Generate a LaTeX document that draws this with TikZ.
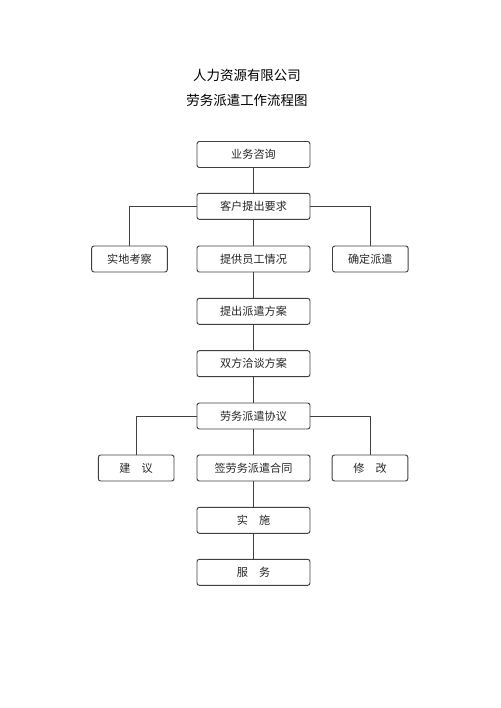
\documentclass[tikz,border=0pt]{standalone}
\usepackage{fontspec}
\setmainfont{Noto Sans CJK SC}
\tikzset{
  step box/.style={draw=black!75, line width=0.8pt, rounded corners=2pt,
    minimum width=3.39cm, minimum height=0.78cm, inner sep=0pt,
    font=\fontsize{9.5pt}{11pt}\selectfont, text=black!85},
  side box/.style={step box, minimum width=2.27cm},
  link/.style={draw=black!75, line width=0.8pt}
}
\begin{document}
\begin{tikzpicture}
  \useasboundingbox (0,0) rectangle (15,-21.24);

  % titles
  \node[font=\fontsize{11.5pt}{13pt}\selectfont] (title1) at (7.41,-2.25) {人力资源有限公司};
  \node[font=\fontsize{11.5pt}{13pt}\selectfont] (title2) at (7.41,-3.0) {劳务派遣工作流程图};

  % main column
  \node[step box] (zixun) at (7.605,-4.635) {业务咨询};
  \node[step box] (yaoqiu) at (7.605,-6.19) {客户提出要求};
  \node[step box] (qingkuang) at (7.605,-7.77) {提供员工情况};
  \node[step box] (fangan) at (7.605,-9.34) {提出派遣方案};
  \node[step box] (qiatan) at (7.605,-10.91) {双方洽谈方案};
  \node[step box] (xieyi) at (7.605,-12.48) {劳务派遣协议};
  \node[step box] (hetong) at (7.605,-14.04) {签劳务派遣合同};
  \node[step box] (shishi) at (7.605,-15.61) {实\hspace{1em}施};
  \node[step box] (fuwu) at (7.605,-17.17) {服\hspace{1em}务};

  % side boxes
  \node[side box] (kaocha) at (3.885,-7.77) {实地考察};
  \node[side box] (paiqian) at (11.11,-7.77) {确定派遣};
  \node[side box] (jianyi) at (4.085,-14.04) {建\hspace{1em}议};
  \node[side box] (xiugai) at (11.1,-14.04) {修\hspace{1em}改};

  % connectors
  \draw[link] (zixun) -- (yaoqiu);
  \draw[link] (yaoqiu) -- (qingkuang);
  \draw[link] (qingkuang) -- (fangan);
  \draw[link] (fangan) -- (qiatan);
  \draw[link] (qiatan) -- (xieyi);
  \draw[link] (xieyi) -- (hetong);
  \draw[link] (hetong) -- (shishi);
  \draw[link] (shishi) -- (fuwu);
  \draw[link] (yaoqiu.west) -| (kaocha.north);
  \draw[link] (yaoqiu.east) -| (paiqian.north);
  \draw[link] (xieyi.west) -| (jianyi.north);
  \draw[link] (xieyi.east) -| (xiugai.north);
\end{tikzpicture}
\end{document}
